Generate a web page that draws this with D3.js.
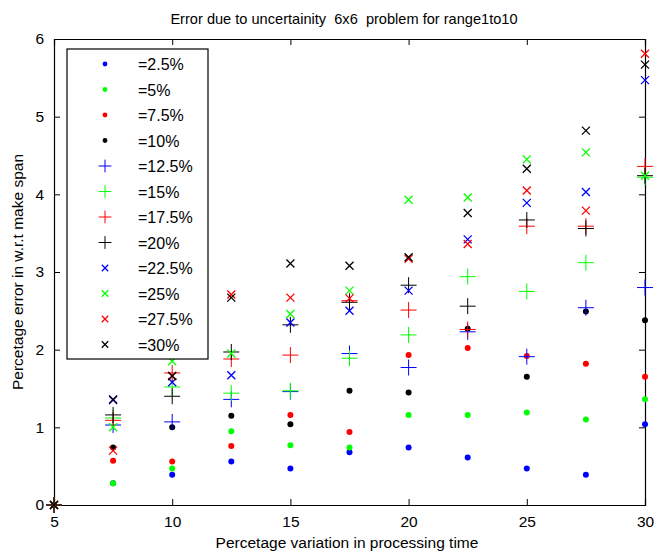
<!DOCTYPE html>
<html>
<head>
<meta charset="utf-8">
<script src="https://cdn.jsdelivr.net/npm/d3@7"></script>
<style>
  body { margin: 0; background: #fff; }
  text { font-family: "Liberation Sans", Arial, sans-serif; }
</style>
</head>
<body>
<svg id="chart" width="654" height="551"></svg>
<script>
// x positions (percentage variation in processing time)
const xVals = [5, 7.5, 10, 12.5, 15, 17.5, 20, 22.5, 25, 27.5, 30];
const xTicks = [5, 10, 15, 20, 25, 30];
const yTicks = [0, 1, 2, 3, 4, 5, 6];

const seriesNames = ["=2.5%", "=5%", "=7.5%", "=10%", "=12.5%", "=15%",
                     "=17.5%", "=20%", "=22.5%", "=25%", "=27.5%", "=30%"];
const seriesColors = ["#0000ff", "#00ff00", "#ff0000", "#000000"];
const seriesMarkers = ["dot", "dot", "dot", "dot", "plus", "plus", "plus", "plus",
                       "cross", "cross", "cross", "cross"];

// values, one row per series
const s2_5  = [0, 0.28, 0.39, 0.56, 0.47, 0.68, 0.74, 0.61, 0.47, 0.39, 1.04];
const s5    = [0, 0.28, 0.47, 0.95, 0.77, 0.74, 1.16, 1.16, 1.19, 1.10, 1.36];
const s7_5  = [0, 0.57, 0.56, 0.76, 1.16, 0.94, 1.93, 2.02, 1.92, 1.82, 1.65];
const s10   = [0, 0.74, 1.00, 1.15, 1.04, 1.47, 1.45, 2.27, 1.65, 2.49, 2.38];
const s12_5 = [0, 1.03, 1.07, 1.36, 1.46, 1.95, 1.77, 2.23, 1.91, 2.54, 2.80];
const s15   = [0, 1.12, 1.52, 1.44, 1.47, 1.89, 2.19, 2.94, 2.75, 3.12, 4.22];
const s17_5 = [0, 1.09, 1.70, 1.88, 1.93, 2.63, 2.51, 2.26, 3.59, 3.59, 4.36];
const s20   = [0, 1.16, 1.40, 1.97, 2.32, 2.61, 2.83, 2.56, 3.67, 3.56, 4.24];
const s22_5 = [0, 1.35, 1.58, 1.67, 2.35, 2.50, 2.76, 3.42, 3.89, 4.03, 5.47];
const s25   = [0, 1.00, 1.85, 1.95, 2.46, 2.76, 3.93, 3.96, 4.45, 4.54, 4.24];
const s27_5 = [0, 0.70, 1.66, 2.71, 2.67, 2.66, 3.17, 3.36, 4.05, 3.79, 5.81];
const s30   = [0, 1.36, 1.66, 2.67, 3.11, 3.08, 3.19, 3.76, 4.33, 4.82, 5.67];

const allSeries = [s2_5, s5, s7_5, s10, s12_5, s15, s17_5, s20, s22_5, s25, s27_5, s30];

const svg = d3.select("#chart");
const margin = {top: 39, right: 9, bottom: 46, left: 54};
const W = 654, H = 551;
const plotW = W - margin.left - margin.right;
const plotH = H - margin.top - margin.bottom;

const x = d3.scaleLinear().domain([5, 30]).range([0, plotW]);
const y = d3.scaleLinear().domain([0, 6]).range([plotH, 0]);

const g = svg.append("g").attr("transform", `translate(${margin.left},${margin.top})`);

// title
svg.append("text")
   .attr("x", 344)
   .attr("y", 24)
   .attr("text-anchor", "middle")
   .attr("xml:space", "preserve")
   .style("font-size", "14.6px")
   .text("Error due to uncertainity  6x6  problem for range1to10");

// axes, ticks inside like matlab
const tickLen = 6;
g.append("g").attr("transform", `translate(0,${plotH})`)
 .call(d3.axisBottom(x).tickValues(xTicks).tickSize(-tickLen).tickPadding(tickLen + 5).tickFormat(d3.format("d")));
g.append("g")
 .call(d3.axisTop(x).tickValues(xTicks).tickSize(-tickLen).tickFormat(""));
g.append("g")
 .call(d3.axisLeft(y).tickValues(yTicks).tickSize(-tickLen).tickPadding(tickLen + 4).tickFormat(d3.format("d")));
g.append("g").attr("transform", `translate(${plotW},0)`)
 .call(d3.axisRight(y).tickValues(yTicks).tickSize(-tickLen).tickFormat(""));

g.selectAll(".domain").attr("stroke", "#000").attr("stroke-width", 1.2);
g.selectAll(".tick line").attr("stroke", "#000");
g.selectAll(".tick text").style("font-size", "15.5px").attr("fill", "#000");

// axis labels
svg.append("text")
   .attr("x", 347)
   .attr("y", 548)
   .attr("text-anchor", "middle")
   .style("font-size", "15.5px")
   .text("Percetage variation in processing time");
svg.append("text")
   .attr("transform", `translate(23,${margin.top + plotH / 2}) rotate(-90)`)
   .attr("text-anchor", "middle")
   .style("font-size", "15.5px")
   .text("Percetage error in w.r.t make span");

function drawMarker(sel, type, color, k) {
  if (type === "dot") {
    sel.append("circle").attr("r", 3 * k).attr("fill", color);
  } else if (type === "plus") {
    sel.append("path").attr("d", `M${-8 * k},0H${8 * k}M0,${-8 * k}V${8 * k}`)
       .attr("stroke", color).attr("stroke-width", 1).attr("fill", "none");
  } else {
    sel.append("path").attr("d", `M${-4 * k},${-4 * k}L${4 * k},${4 * k}M${-4 * k},${4 * k}L${4 * k},${-4 * k}`)
       .attr("stroke", color).attr("stroke-width", 1.3).attr("fill", "none");
  }
}

// points
allSeries.forEach((vals, i) => {
  const color = seriesColors[i % 4];
  const pts = g.append("g").selectAll("g")
    .data(vals.map((v, j) => ({x: xVals[j], y: v})))
    .enter().append("g")
    .attr("transform", d => `translate(${x(d.x)},${y(d.y)})`);
  drawMarker(pts, seriesMarkers[i], color, 1);
});

// legend
const leg = g.append("g").attr("transform", "translate(13,10)");
leg.append("rect").attr("width", 141).attr("height", 310)
   .attr("fill", "#fff").attr("stroke", "#000").attr("stroke-width", 1.2);
seriesNames.forEach((name, i) => {
  const row = leg.append("g").attr("transform", `translate(38,${15 + i * 25.5})`);
  drawMarker(row, seriesMarkers[i], seriesColors[i % 4], 0.8);
  row.append("text").attr("x", 33).attr("y", 6)
     .style("font-size", "16px").text(name);
});
</script>
</body>
</html>
